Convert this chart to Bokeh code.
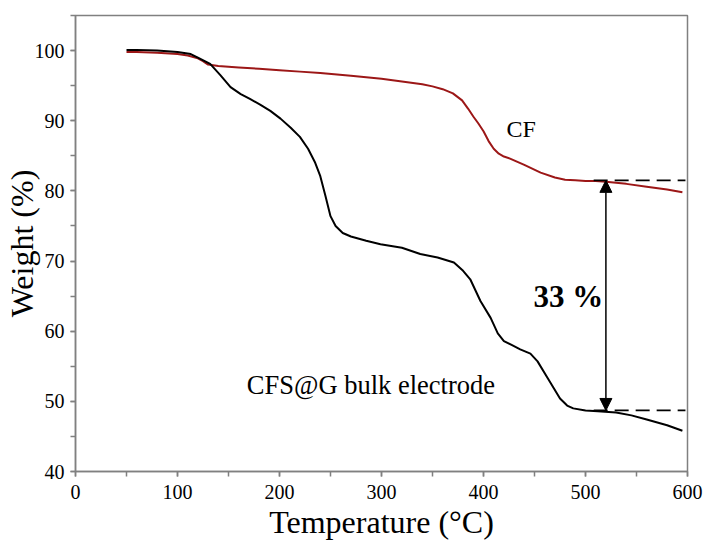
from bokeh.plotting import figure
from bokeh.models import Arrow, NormalHead, Label, SingleIntervalTicker, Range1d
from bokeh.embed import file_html
from bokeh.resources import INLINE

# CF (red)
t_cf = [50, 60, 80, 100, 110, 120, 125, 130, 140, 160, 180, 200, 220, 240, 270, 300, 320,
        340, 350, 360, 370, 379, 385, 390, 395, 400, 405, 410, 415, 420, 426, 440,
        456, 470, 480, 490, 500, 510, 520, 540, 560, 580, 595]
w_cf = [99.8, 99.8, 99.7, 99.5, 99.3, 98.9, 98.5, 98.0, 97.8, 97.6, 97.4, 97.2, 97.0, 96.8,
        96.4, 96.0, 95.6, 95.2, 94.9, 94.5, 93.9, 92.9, 91.7, 90.6, 89.6, 88.5, 87.1,
        86.0, 85.3, 84.9, 84.6, 83.7, 82.6, 81.9, 81.6, 81.5, 81.4, 81.4, 81.3, 81.0,
        80.6, 80.2, 79.8]

# CFS@G bulk electrode (black)
t_g = [50, 60, 80, 100, 113, 120, 132, 142, 152, 162, 171, 181, 191, 201, 211, 220, 228,
       235, 240, 245, 250, 255, 262, 270, 285, 299, 320, 338, 355, 371, 380, 387, 397,
       407, 414, 420, 428, 436, 446, 453, 463, 475, 482, 488, 500, 512, 530, 545, 560,
       580, 595]
w_g = [100.1, 100.1, 100.0, 99.8, 99.5, 99.0, 98.1, 96.5, 94.8, 93.8, 93.1, 92.3, 91.4, 90.3,
       89.0, 87.7, 86.0, 84.0, 82.1, 79.3, 76.4, 75.0, 74.0, 73.5, 72.9, 72.4, 71.9, 71.0,
       70.5, 69.8, 68.6, 67.4, 64.3, 61.9, 59.7, 58.6, 58.0, 57.4, 56.8, 55.7, 53.3, 50.4,
       49.4, 49.0, 48.7, 48.6, 48.4, 48.0, 47.4, 46.6, 45.8]

x_ticks_interval = 100
y_ticks_interval = 10
cf_residue = 81.5
g_residue = 48.7
arrow_x = 520
dash_x = [508, 598]

LINE_GRAY = "#808080"
RED = "#9c1717"
SERIF = "Liberation Serif"

p = figure(width=712, height=542, output_backend="svg", toolbar_location=None,
           x_range=Range1d(0, 600), y_range=Range1d(40, 105),
           min_border_left=75, min_border_right=25, min_border_top=15, min_border_bottom=71)
p.background_fill_color = "white"
p.border_fill_color = "white"
p.outline_line_color = LINE_GRAY
p.outline_line_width = 1.5
p.xgrid.visible = False
p.ygrid.visible = False

p.line(t_cf, w_cf, line_color=RED, line_width=2)
p.line(t_g, w_g, line_color="black", line_width=2)

p.line(dash_x, [cf_residue, cf_residue], line_color="black", line_width=1.8, line_dash="14 7")
p.line(dash_x, [g_residue, g_residue], line_color="black", line_width=1.8, line_dash="14 7")

p.add_layout(Arrow(start=NormalHead(size=12, fill_color="black", line_color="black"),
                   end=NormalHead(size=12, fill_color="black", line_color="black"),
                   x_start=arrow_x, y_start=g_residue, x_end=arrow_x, y_end=cf_residue,
                   line_width=1.5, line_color="black"))

p.add_layout(Label(x=449, y=65.0, text="33 %", text_font=SERIF, text_color="black",
                   text_font_size="31px", text_font_style="bold", text_baseline="alphabetic"))
p.add_layout(Label(x=422.5, y=88.8, text="CF", text_font=SERIF, text_color="black",
                   text_font_size="24px", text_baseline="alphabetic"))
p.add_layout(Label(x=168, y=52.4, text="CFS@G bulk electrode", text_font=SERIF, text_color="black",
                   text_font_size="26.5px", text_baseline="alphabetic"))

for ax in (p.xaxis[0], p.yaxis[0]):
    ax.axis_line_color = LINE_GRAY
    ax.axis_line_width = 1.5
    ax.major_tick_line_color = LINE_GRAY
    ax.minor_tick_line_color = LINE_GRAY
    ax.major_tick_line_width = 1.5
    ax.minor_tick_line_width = 1.5
    ax.major_tick_in = 0
    ax.major_tick_out = 5
    ax.minor_tick_in = 0
    ax.minor_tick_out = 5
    ax.major_label_text_font = SERIF
    ax.major_label_text_font_size = "20px"
    ax.major_label_text_color = "black"
    ax.axis_label_text_font = SERIF
    ax.axis_label_text_font_style = "normal"
    ax.axis_label_text_font_size = "32px"
    ax.axis_label_text_color = "black"

p.xaxis[0].ticker = SingleIntervalTicker(interval=x_ticks_interval, num_minor_ticks=2)
p.yaxis[0].ticker = SingleIntervalTicker(interval=y_ticks_interval, num_minor_ticks=2)
p.xaxis[0].axis_label = "Temperature (°C)"
p.yaxis[0].axis_label = "Weight (%)"
p.xaxis[0].major_label_standoff = 8
p.yaxis[0].major_label_standoff = 6
p.xaxis[0].axis_label_standoff = 2
p.yaxis[0].axis_label_standoff = -8

open("out.html", "w").write(file_html(p, INLINE))
